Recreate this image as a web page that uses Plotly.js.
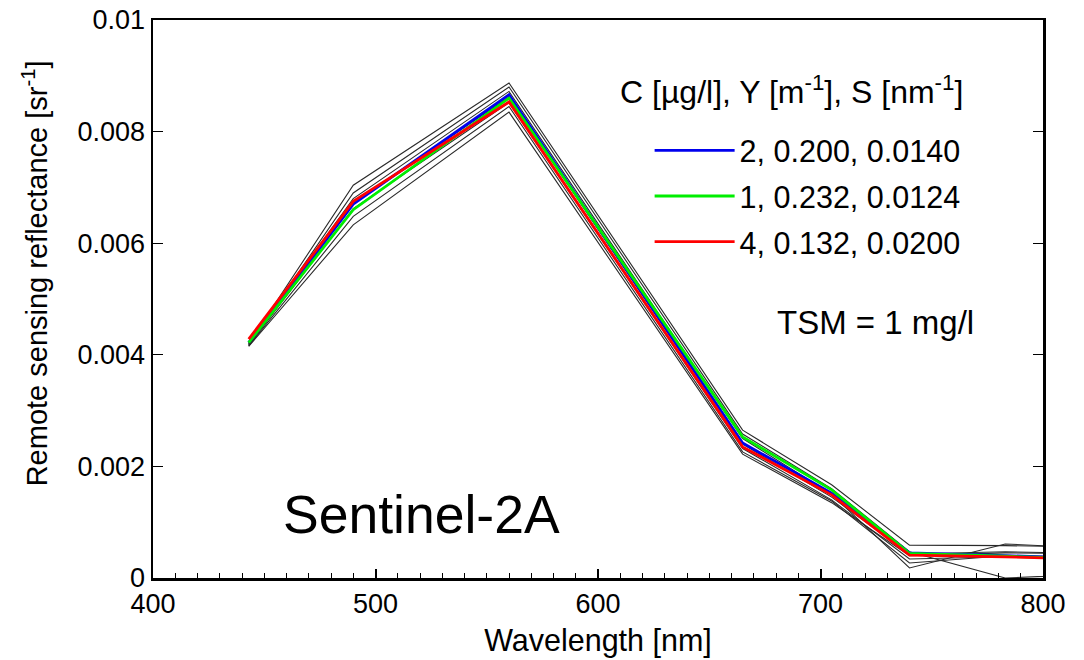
<!DOCTYPE html>
<html>
<head>
<meta charset="utf-8">
<script src="https://cdn.plot.ly/plotly-3.0.1.min.js"></script>
<style>html,body{margin:0;padding:0;background:#fff}#chart{width:1084px;height:660px}</style>
</head>
<body>
<div id="chart"></div>
<script>
// Sentinel-2A band centres [nm]
const bands = [443, 490, 560, 665, 705, 740, 783, 842];

// Highlighted spectra
const seriesNames = ['2, 0.200, 0.0140', '1, 0.232, 0.0124', '4, 0.132, 0.0200'];
const blueValues  = [0.00422, 0.00670, 0.00866, 0.00242, 0.00152, 0.00045, 0.00040, 0.00033];
const greenValues = [0.00422, 0.00660, 0.00860, 0.00253, 0.00158, 0.00044, 0.00039, 0.00032];
const redValues   = [0.00428, 0.00675, 0.00853, 0.00235, 0.00149, 0.00041, 0.00038, 0.00031];

// Other (thin black) spectra
const black1 = [0.00420, 0.00704, 0.00887, 0.00265, 0.00167, 0.00059, 0.00058, 0.00054];
const black2 = [0.00418, 0.00690, 0.00880, 0.00258, 0.00160, 0.00047, 0.00000, 0.00010];
const black3 = [0.00421, 0.00680, 0.00872, 0.00250, 0.00150, 0.00018, 0.00061, 0.00050];
const black4 = [0.00419, 0.00672, 0.00862, 0.00240, 0.00145, 0.00043, 0.00047, 0.00042];
const black5 = [0.00417, 0.00662, 0.00852, 0.00232, 0.00140, 0.00034, 0.00038, 0.00035];
const black6 = [0.00416, 0.00648, 0.00845, 0.00226, 0.00138, 0.00027, 0.00040, 0.00036];
const black7 = [0.00415, 0.00633, 0.00835, 0.00222, 0.00135, 0.00040, 0.00045, 0.00043];
const blackSeries = [black1, black2, black3, black4, black5, black6, black7];

const yTickVals = [0, 0.002, 0.004, 0.006, 0.008, 0.01];
const yTickText = ['0', '0.002', '0.004', '0.006', '0.008', '0.01'];
const xTickVals = [400, 500, 600, 700, 800];

const xTitle = 'Wavelength [nm]';
const yTitle = 'Remote sensing reflectance [sr<sup>-1</sup>]';
const legendTitle = 'C [µg/l], Y [m<sup>-1</sup>], S [nm<sup>-1</sup>]';
const tsmLabel = 'TSM = 1 mg/l';
const sensorLabel = 'Sentinel-2A';

const FONT = 'Liberation Sans, Arial, sans-serif';

const traces = [];
blackSeries.forEach(function (s) {
  traces.push({x: bands, y: s, mode: 'lines', line: {color: '#2a2a2a', width: 1.1},
    showlegend: false, hoverinfo: 'skip'});
});
const colors = ['#0000ee', '#00ee00', '#ff0000'];
[blueValues, greenValues, redValues].forEach(function (s, i) {
  traces.push({x: bands, y: s, mode: 'lines', name: seriesNames[i], legendgroup: 'g' + i,
    line: {color: colors[i], width: 2.8}});
});

function ann(x, y, text, size, extra) {
  return Object.assign({xref: 'paper', yref: 'paper', x: x, y: y, text: text, showarrow: false,
    xanchor: 'center', yanchor: 'middle', font: {family: FONT, size: size, color: '#000'}}, extra || {});
}

const layout = {
  width: 1084, height: 660,
  margin: {l: 153, r: 41, t: 20, b: 82},
  paper_bgcolor: '#fff', plot_bgcolor: '#fff',
  font: {family: FONT, size: 27, color: '#000'},
  showlegend: true,
  legend: {
    x: 0.558, y: 0.8136, xanchor: 'left', yanchor: 'top',
    bgcolor: 'rgba(0,0,0,0)', borderwidth: 0,
    font: {family: FONT, size: 30.5, color: '#000'},
    itemwidth: 80, tracegroupgap: 3, traceorder: 'grouped'
  },
  xaxis: {
    range: [400, 800], tickvals: xTickVals, ticks: 'inside', ticklen: 9, tickwidth: 2,
    tickcolor: '#000', showline: true, linewidth: 2.5, linecolor: '#000', mirror: true,
    showgrid: false, zeroline: false,
    minor: {dtick: 10, ticks: 'inside', ticklen: 5, tickwidth: 1, tickcolor: '#000', showgrid: false},
    tickfont: {family: FONT, size: 27},
    title: {text: xTitle, font: {family: FONT, size: 30.5}, standoff: 12}
  },
  yaxis: {
    range: [0, 0.01], tickvals: yTickVals, ticktext: yTickText, ticks: 'inside', ticklen: 10,
    tickwidth: 1, tickcolor: '#000', showline: true, linewidth: 2.5, linecolor: '#000',
    mirror: 'ticks', showgrid: false, zeroline: false,
    tickfont: {family: FONT, size: 27}
  },
  annotations: [
    ann(-0.1326, 0.546, yTitle, 29, {textangle: -90}),
    ann(0.7174, 0.875, legendTitle, 32),
    ann(0.8118, 0.457, tsmLabel, 33),
    ann(0.302, 0.113, sensorLabel, 53.5)
  ]
};

Plotly.newPlot('chart', traces, layout, {displayModeBar: false, staticPlot: true});
</script>
</body>
</html>
